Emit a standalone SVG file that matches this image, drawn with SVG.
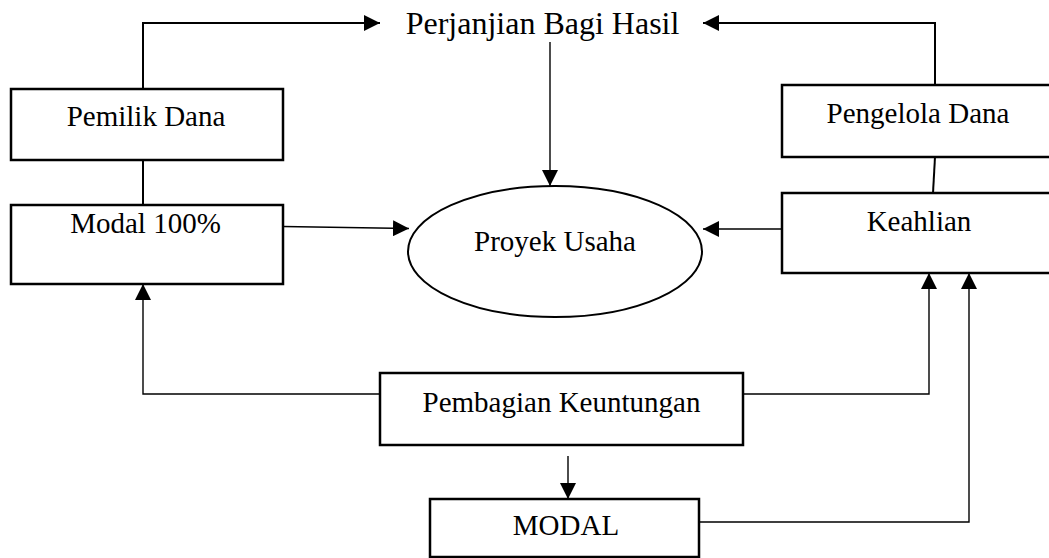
<svg xmlns="http://www.w3.org/2000/svg" width="1049" height="558" viewBox="0 0 1049 558">
<style>
.box{fill:#fff;stroke:#000;stroke-width:2.5}
.t{font-family:"Liberation Serif","Times New Roman",serif;font-size:29px;fill:#000;text-anchor:middle}
.c{fill:none;stroke:#000;stroke-width:1.4}
.c2{fill:none;stroke:#000;stroke-width:2}
</style>
<defs>
<marker id="ah" markerUnits="userSpaceOnUse" markerWidth="17" markerHeight="16" refX="16" refY="8" orient="auto" viewBox="0 0 17 16">
<path d="M0,0 L16,8 L0,16 z" fill="#000"/>
</marker>
</defs>
<rect width="1049" height="558" fill="#fff"/>
<g id="connectors">
<polyline class="c2" points="143,89 143,23 380,23" marker-end="url(#ah)"/>
<polyline class="c2" points="935,85 935,23 703,23" marker-end="url(#ah)"/>
<line class="c2" x1="143" y1="160" x2="143" y2="205"/>
<line class="c2" x1="935" y1="157" x2="933" y2="193"/>
<line class="c" x1="550" y1="42" x2="550" y2="186" marker-end="url(#ah)"/>
<line class="c" x1="283" y1="226.5" x2="409" y2="228.5" marker-end="url(#ah)"/>
<line class="c" x1="782" y1="229" x2="703" y2="229" marker-end="url(#ah)"/>
<polyline class="c" points="380,394 143,394 143,284" marker-end="url(#ah)"/>
<polyline class="c" points="743,394 929,394 929,273" marker-end="url(#ah)"/>
<polyline class="c" points="699,522 969,522 969,273" marker-end="url(#ah)"/>
<line class="c" x1="568" y1="456" x2="568" y2="499" marker-end="url(#ah)"/>
</g>
<g id="perjanjian">
<text class="t" x="542.5" y="34" style="font-size:32px">Perjanjian Bagi Hasil</text>
</g>
<g id="pemilik-dana">
<rect class="box" x="11" y="89" width="272" height="71"/>
<text class="t" x="146" y="126">Pemilik Dana</text>
</g>
<g id="modal-100">
<rect class="box" x="11" y="205" width="272" height="79"/>
<text class="t" x="145.5" y="233">Modal 100%</text>
</g>
<g id="proyek-usaha">
<ellipse cx="555" cy="251.5" rx="147" ry="65.5" fill="#fff" stroke="#000" stroke-width="2"/>
<text class="t" x="555" y="251">Proyek Usaha</text>
</g>
<g id="pengelola-dana">
<rect class="box" x="782" y="85" width="270" height="72"/>
<text class="t" x="918" y="123">Pengelola Dana</text>
</g>
<g id="keahlian">
<rect class="box" x="782" y="193" width="270" height="80"/>
<text class="t" x="919" y="231">Keahlian</text>
</g>
<g id="pembagian-keuntungan">
<rect class="box" x="380" y="373" width="363" height="72"/>
<text class="t" x="561.5" y="411.5">Pembagian Keuntungan</text>
</g>
<g id="modal">
<rect class="box" x="430" y="499" width="269" height="58"/>
<text class="t" x="566" y="535">MODAL</text>
</g>
</svg>
